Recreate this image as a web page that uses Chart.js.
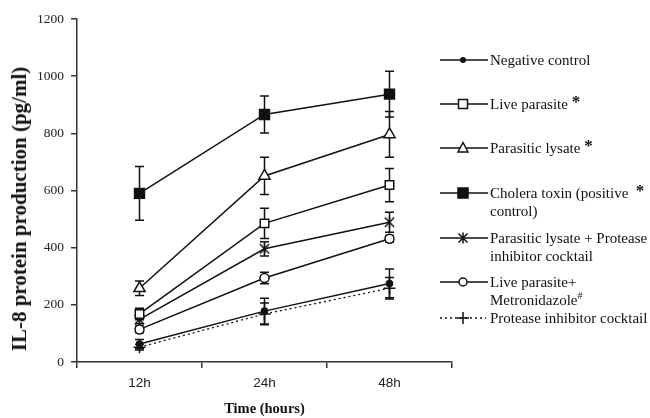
<!DOCTYPE html>
<html>
<head>
<meta charset="utf-8">
<script src="https://cdn.jsdelivr.net/npm/chart.js@4"></script>
<style>
  html, body { margin: 0; padding: 0; background: #fff; }
  #wrap { position: relative; width: 650px; height: 418px; overflow: hidden; }
  #c { position: absolute; left: 0; top: 0; }
  .lg { position: absolute; left: 0; top: 0; }
  .sym { position: absolute; left: 438px; width: 54px; height: 16px; }
  .txt { position: absolute; left: 490px; font-family: "Liberation Serif", "Times New Roman", serif; font-size: 15px; line-height: 18px; color: #111; white-space: nowrap; }
  .ast { font-weight: bold; font-size: 17px; position: relative; top: -2px; line-height: 10px; }
  .sp { font-size: 10px; position: relative; top: -6px; line-height: 10px; }
  #ytitle { position: absolute; left: 19px; top: 209px; transform: translate(-50%, -50%) rotate(-90deg); font-family: "Liberation Serif", "Times New Roman", serif; font-weight: bold; font-size: 21px; line-height: 24px; color: #111; white-space: nowrap; }
</style>
</head>
<body>
<div id="wrap">
  <canvas id="c" width="650" height="418"></canvas>
  <div id="ytitle">IL-8 protein production (pg/ml)</div>
  <div class="lg" id="legend"></div>
</div>
<script>
// ---- Data ----
const categories = ['12h', '24h', '48h'];
const negativeControl   = [63, 178, 275];
const negativeErr       = [16, 45, 50];
const liveParasite      = [168, 485, 619];
const liveParasiteErr   = [20, 53, 58];
const parasiticLysate   = [258, 651, 796];
const parasiticLysateErr= [25, 65, 80];
const choleraToxin      = [590, 866, 937];
const choleraToxinErr   = [94, 65, 80];
const lysateProtease    = [149, 396, 489];
const lysateProteaseErr = [15, 25, 35];
const liveMetronidazole = [114, 294, 431];
const liveMetronidazoleErr = [12, 20, 12];
const proteaseCocktail  = [52, 168, 258];
const proteaseCocktailErr = [10, 38, 38];
const yTicks = [0, 200, 400, 600, 800, 1000, 1200];

const INK = '#111';

// custom asterisk marker (X + vertical bar)
function makeAsterisk(size) {
  const c = document.createElement('canvas');
  c.width = size; c.height = size;
  const g = c.getContext('2d');
  g.strokeStyle = INK; g.lineWidth = 1.5;
  const m = size / 2, r = size / 2 - 1;
  g.beginPath();
  g.moveTo(m - r * 0.85, m - r * 0.85); g.lineTo(m + r * 0.85, m + r * 0.85);
  g.moveTo(m + r * 0.85, m - r * 0.85); g.lineTo(m - r * 0.85, m + r * 0.85);
  g.moveTo(m, m - r); g.lineTo(m, m + r);
  g.stroke();
  return c;
}
const asterisk = makeAsterisk(13);

function ds(label, data, err, opts) {
  return Object.assign({
    label, data, errors: err,
    borderColor: INK, borderWidth: 1.5,
    pointBorderColor: INK, pointBorderWidth: 1.5,
    pointBackgroundColor: '#fff',
    tension: 0, fill: false
  }, opts);
}

const datasets = [
  ds('Cholera toxin (positive control)', choleraToxin, choleraToxinErr, { pointStyle: 'rect', pointRadius: 7, pointBackgroundColor: INK }),
  ds('Parasitic lysate', parasiticLysate, parasiticLysateErr, { pointStyle: 'triangle', pointRadius: 6.5 }),
  ds('Live parasite', liveParasite, liveParasiteErr, { pointStyle: 'rect', pointRadius: 6 }),
  ds('Parasitic lysate + Protease inhibitor cocktail', lysateProtease, lysateProteaseErr, { pointStyle: asterisk, pointRadius: 6 }),
  ds('Live parasite+ Metronidazole', liveMetronidazole, liveMetronidazoleErr, { pointStyle: 'circle', pointRadius: 4.5 }),
  ds('Protease inhibitor cocktail', proteaseCocktail, proteaseCocktailErr, { pointStyle: 'cross', pointRadius: 6, borderDash: [2, 3], borderWidth: 1.3 }),
  ds('Negative control', negativeControl, negativeErr, { pointStyle: 'circle', pointRadius: 3, pointBackgroundColor: INK })
];

const errorBars = {
  id: 'errorBars',
  beforeDatasetsDraw(chart) {
    const ctx = chart.ctx, y = chart.scales.y;
    ctx.save();
    ctx.strokeStyle = INK; ctx.lineWidth = 1.5; ctx.setLineDash([]);
    chart.data.datasets.forEach((d, i) => {
      const meta = chart.getDatasetMeta(i);
      meta.data.forEach((pt, j) => {
        const e = d.errors[j]; if (!e) return;
        const x = pt.x;
        const yt = y.getPixelForValue(d.data[j] + e);
        const yb = y.getPixelForValue(d.data[j] - e);
        ctx.beginPath();
        ctx.moveTo(x, yt); ctx.lineTo(x, yb);
        ctx.moveTo(x - 4.5, yt); ctx.lineTo(x + 4.5, yt);
        ctx.moveTo(x - 4.5, yb); ctx.lineTo(x + 4.5, yb);
        ctx.stroke();
      });
    });
    ctx.restore();
  }
};

new Chart(document.getElementById('c'), {
  type: 'line',
  data: { labels: categories, datasets },
  options: {
    responsive: false,
    animation: false,
    devicePixelRatio: 1,
    layout: { padding: { left: 0, right: 198, top: 19, bottom: 0 } },
    plugins: { legend: { display: false }, tooltip: { enabled: false } },
    scales: {
      x: {
        type: 'category',
        offset: true,
        grid: { display: true, drawOnChartArea: false, drawTicks: true, tickLength: 6, offset: true, color: '#333', lineWidth: 1.5 },
        border: { display: true, color: '#333', width: 1.5 },
        ticks: { color: '#222', padding: 7, font: { family: '"Liberation Sans", Arial, sans-serif', size: 13.5 }, maxRotation: 0 },
        title: { display: true, text: 'Time (hours)', color: '#111', padding: { top: 0, bottom: 0 }, font: { family: '"Liberation Serif", "Times New Roman", serif', size: 14.5, weight: 'bold' } },
        afterFit(s) { s.height = 56; }
      },
      y: {
        min: 0, max: 1200,
        afterBuildTicks(s) { s.ticks = yTicks.map(v => ({ value: v })); },
        grid: { display: true, drawOnChartArea: false, drawTicks: true, tickLength: 6, color: '#333', lineWidth: 1.5 },
        border: { display: true, color: '#333', width: 1.5 },
        ticks: { color: '#222', padding: 7, font: { family: '"Liberation Serif", "Times New Roman", serif', size: 13.5 }, callback: v => String(v) },
        title: { display: false },
        afterFit(s) { s.width = 77; }
      }
    }
  },
  plugins: [errorBars]
});

// ---- HTML legend ----
const legendEntries = [
  { y: 60, sym: 'dot', lines: ['Negative control'] },
  { y: 104, sym: 'openSquare', lines: ['Live parasite <span class="ast">*</span>'] },
  { y: 148, sym: 'triangle', lines: ['Parasitic lysate <span class="ast">*</span>'] },
  { y: 193, sym: 'filledSquare', lines: ['Cholera toxin (positive&nbsp; <span class="ast">*</span>', 'control)'] },
  { y: 238, sym: 'asterisk', lines: ['Parasitic lysate + Protease', 'inhibitor cocktail'] },
  { y: 282, sym: 'openCircle', lines: ['Live parasite+', 'Metronidazole<span class="sp">#</span>'] },
  { y: 318, sym: 'plus', lines: ['Protease inhibitor cocktail'] }
];
function symSvg(kind) {
  const s = 'stroke="#111" stroke-width="1.5"';
  let line = kind === 'plus'
    ? `<line x1="2" y1="8" x2="48" y2="8" stroke="#111" stroke-width="1.3" stroke-dasharray="2 3"/>`
    : `<line x1="2" y1="8" x2="50" y2="8" ${s}/>`;
  let m = '';
  const cx = 25;
  switch (kind) {
    case 'dot': m = `<circle cx="${cx}" cy="8" r="3" fill="#111"/>`; break;
    case 'openSquare': m = `<rect x="${cx-4.5}" y="3.5" width="9" height="9" fill="#fff" ${s}/>`; break;
    case 'filledSquare': m = `<rect x="${cx-5}" y="3" width="10" height="10" fill="#111" ${s}/>`; break;
    case 'triangle': m = `<polygon points="${cx},2.5 ${cx+5},12 ${cx-5},12" fill="#fff" ${s}/>`; break;
    case 'asterisk': m = `<path d="M${cx-4.5} 3.5 L${cx+4.5} 12.5 M${cx+4.5} 3.5 L${cx-4.5} 12.5 M${cx} 2.5 L${cx} 13.5" ${s} fill="none"/>`; break;
    case 'openCircle': m = `<circle cx="${cx}" cy="8" r="4" fill="#fff" ${s}/>`; break;
    case 'plus': m = `<path d="M${cx-6} 8 L${cx+6} 8 M${cx} 2 L${cx} 14" ${s} fill="none"/>`; break;
  }
  return `<svg width="54" height="16" viewBox="0 0 54 16">${line}${m}</svg>`;
}
const lg = document.getElementById('legend');
legendEntries.forEach(e => {
  const sym = document.createElement('div');
  sym.className = 'sym';
  sym.style.top = (e.y - 8) + 'px';
  sym.innerHTML = symSvg(e.sym);
  lg.appendChild(sym);
  e.lines.forEach((t, k) => {
    const d = document.createElement('div');
    d.className = 'txt';
    d.style.top = (e.y - 9 + k * 18) + 'px';
    d.innerHTML = t;
    lg.appendChild(d);
  });
});
</script>
</body>
</html>
